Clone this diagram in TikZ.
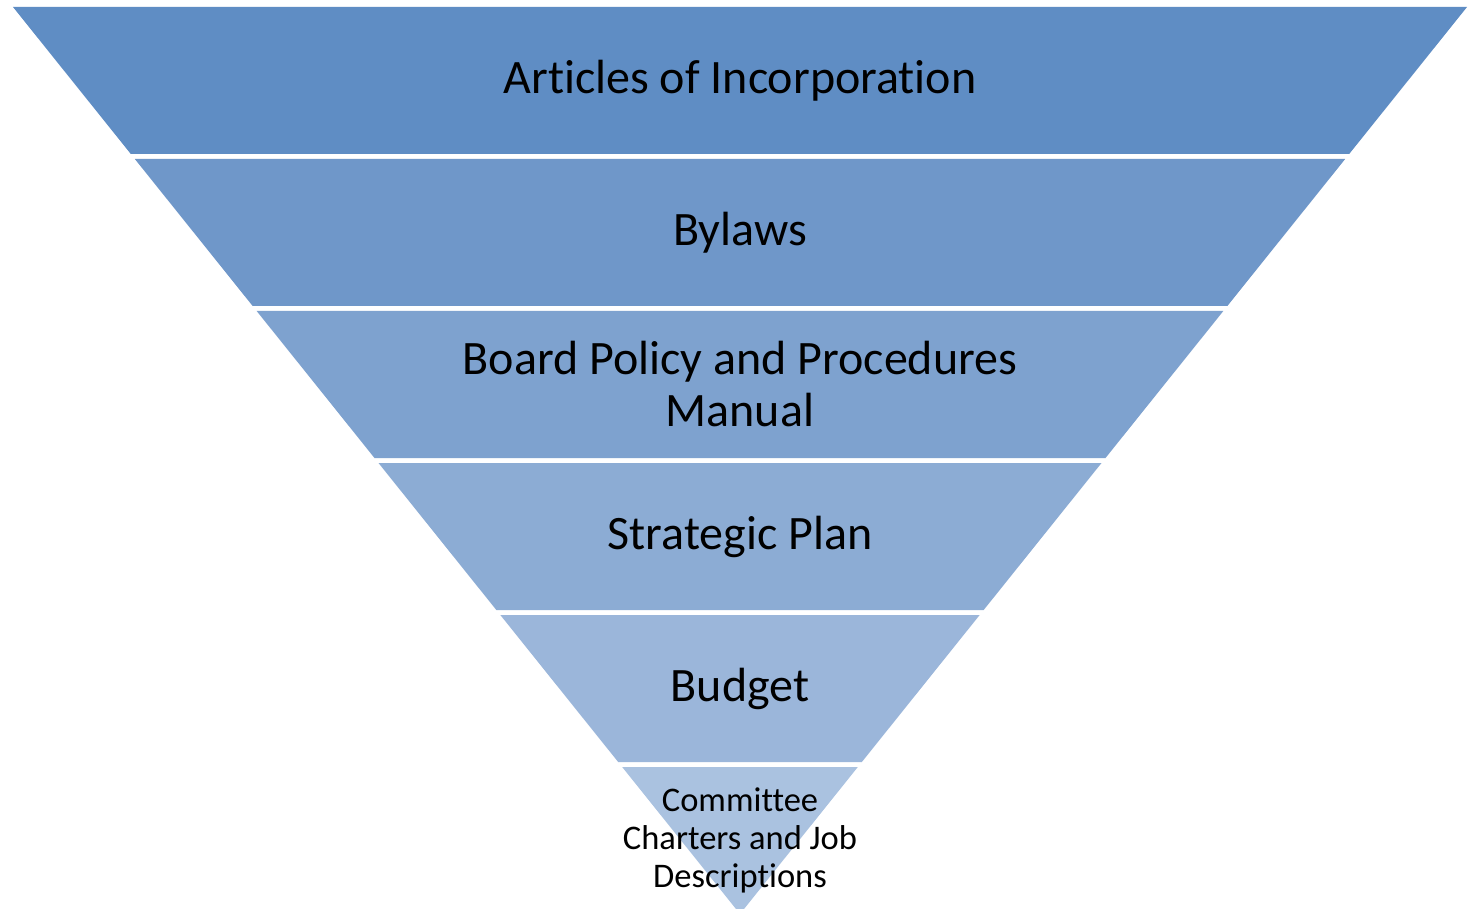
\documentclass[tikz,border=0pt]{standalone}
\usepackage{fontspec}
\setmainfont{Carlito}[Ligatures={NoCommon}]
\definecolor{b1}{HTML}{5F8DC4}
\definecolor{b2}{HTML}{6F97C9}
\definecolor{b3}{HTML}{7EA2CF}
\definecolor{b4}{HTML}{8CACD4}
\definecolor{b5}{HTML}{9BB6DA}
\definecolor{b6}{HTML}{AAC2E0}
\tikzset{
  bigtext/.style={font=\fontsize{48}{52}\selectfont, align=center, text=black, inner sep=0pt},
  smalltext/.style={font=\fontsize{34.5}{38}\selectfont, align=center, text=black, inner sep=0pt}
}
\begin{document}
\begin{tikzpicture}[x=1pt,y=-1pt]
\fill[white] (0,0) rectangle (1473,909);
\useasboundingbox (0,0) rectangle (1473,909);
\foreach \i/\c in {0/b1,1/b2,2/b3,3/b4,4/b5,5/b6}{
  \pgfmathsetmacro{\yt}{7+152*\i}
  \pgfmathsetmacro{\yb}{\yt+147}
  \pgfmathsetmacro{\ht}{0.80154*(914-\yt)}
  \pgfmathsetmacro{\hb}{0.80154*(914-\yb)}
  \fill[\c] (740-\ht,\yt) -- (740+\ht,\yt) -- (740+\hb,\yb) -- (740-\hb,\yb) -- cycle;
}
\node[bigtext] (t1) at (740,80.5) {Articles of Incorporation};
\node[bigtext] (t2) at (740,232.5) {Bylaws};
\node[bigtext] (t3) at (740,384.5) {Board Policy and Procedures\\Manual};
\node[bigtext] (t4) at (740,536.5) {Strategic Plan};
\node[bigtext] (t5) at (740,688.5) {Budget};
\node[smalltext] (t6) at (740,840.5) {Committee\\Charters and Job\\Descriptions};
\end{tikzpicture}
\end{document}
